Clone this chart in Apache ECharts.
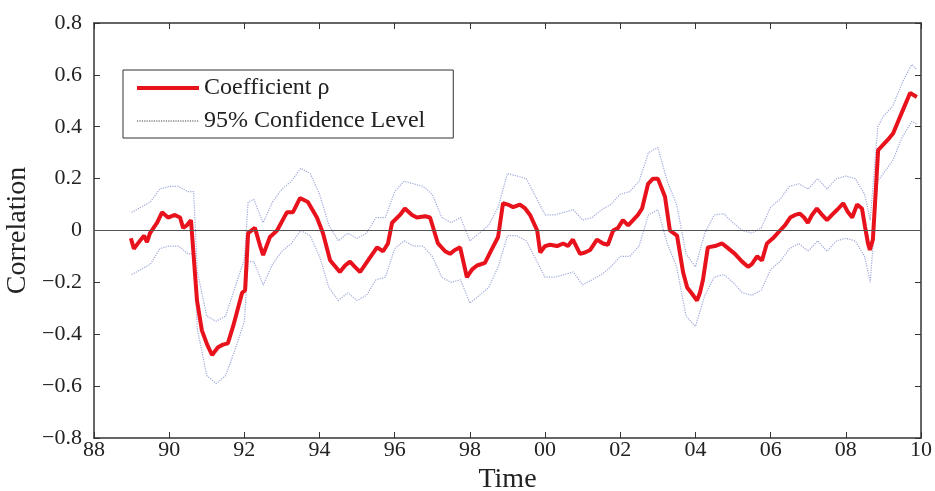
<!DOCTYPE html>
<html>
<head>
<meta charset="utf-8">
<script src="https://cdn.jsdelivr.net/npm/echarts@6/dist/echarts.min.js"></script>
<style>html,body{margin:0;padding:0;background:#fff}#c{width:935px;height:491px}</style>
</head>
<body>
<div id="c"></div>
<script>
// Correlation coefficient rho (time in years)
var years = [1988.98,1989.06,1989.22,1989.33,1989.41,1989.49,1989.68,1989.81,1989.97,1990.15,1990.29,1990.37,1990.47,1990.58,1990.63,1990.74,1990.87,1991.01,1991.14,1991.30,1991.43,1991.56,1991.70,1991.83,1991.94,1992.02,1992.10,1992.28,1992.42,1992.50,1992.68,1992.87,1993.13,1993.29,1993.48,1993.69,1993.93,1994.09,1994.28,1994.54,1994.68,1994.81,1994.94,1995.08,1995.29,1995.53,1995.69,1995.82,1995.93,1996.14,1996.27,1996.46,1996.59,1996.81,1996.94,1997.15,1997.34,1997.47,1997.60,1997.74,1997.92,1998.06,1998.19,1998.40,1998.59,1998.75,1998.88,1999.01,1999.15,1999.33,1999.47,1999.60,1999.79,1999.87,2000.00,2000.13,2000.32,2000.48,2000.61,2000.74,2000.93,2001.06,2001.20,2001.38,2001.54,2001.67,2001.81,2001.94,2002.07,2002.21,2002.34,2002.47,2002.58,2002.74,2002.87,2003.00,2003.19,2003.32,2003.51,2003.67,2003.78,2003.94,2004.04,2004.12,2004.20,2004.33,2004.52,2004.71,2004.84,2005.05,2005.24,2005.40,2005.50,2005.64,2005.77,2005.90,2006.06,2006.25,2006.38,2006.52,2006.65,2006.78,2006.89,2006.99,2007.10,2007.23,2007.37,2007.50,2007.63,2007.77,2007.93,2008.06,2008.17,2008.30,2008.43,2008.51,2008.59,2008.64,2008.72,2008.86,2008.99,2009.12,2009.26,2009.39,2009.52,2009.71,2009.89];
var rho = [-0.03,-0.07,-0.04,-0.02,-0.045,-0.01,0.03,0.07,0.05,0.06,0.05,0.01,0.02,0.04,0.035,-0.27,-0.385,-0.44,-0.48,-0.45,-0.44,-0.435,-0.37,-0.30,-0.24,-0.23,-0.01,0.01,-0.06,-0.095,-0.025,0.0,0.07,0.07,0.125,0.11,0.05,-0.01,-0.115,-0.16,-0.135,-0.12,-0.14,-0.16,-0.115,-0.065,-0.08,-0.05,0.03,0.06,0.085,0.06,0.05,0.055,0.05,-0.05,-0.08,-0.09,-0.075,-0.065,-0.18,-0.15,-0.135,-0.125,-0.07,-0.025,0.105,0.10,0.09,0.10,0.085,0.06,0.0,-0.085,-0.06,-0.055,-0.06,-0.05,-0.06,-0.035,-0.09,-0.085,-0.075,-0.035,-0.05,-0.055,0.0,0.01,0.04,0.02,0.04,0.06,0.085,0.18,0.20,0.20,0.13,0.0,-0.02,-0.16,-0.22,-0.25,-0.27,-0.24,-0.19,-0.065,-0.06,-0.05,-0.065,-0.09,-0.12,-0.14,-0.13,-0.10,-0.115,-0.05,-0.03,0.0,0.02,0.05,0.06,0.065,0.05,0.03,0.06,0.085,0.06,0.04,0.06,0.08,0.105,0.07,0.05,0.10,0.085,0.015,-0.05,-0.075,-0.035,0.31,0.33,0.35,0.375,0.42,0.465,0.53,0.515];

// 95% confidence bounds
var bandYears = [1989.00,1989.25,1989.50,1989.75,1990.00,1990.25,1990.50,1990.65,1990.75,1991.00,1991.25,1991.50,1991.75,1992.00,1992.10,1992.25,1992.50,1992.75,1993.00,1993.25,1993.50,1993.75,1994.00,1994.25,1994.50,1994.75,1995.00,1995.25,1995.50,1995.75,1996.00,1996.25,1996.50,1996.75,1997.00,1997.25,1997.50,1997.75,1998.00,1998.25,1998.50,1998.75,1999.00,1999.25,1999.50,1999.75,2000.00,2000.25,2000.50,2000.75,2001.00,2001.25,2001.50,2001.75,2002.00,2002.25,2002.50,2002.75,2003.00,2003.25,2003.50,2003.75,2004.00,2004.25,2004.50,2004.75,2005.00,2005.25,2005.50,2005.75,2006.00,2006.25,2006.50,2006.75,2007.00,2007.25,2007.50,2007.75,2008.00,2008.25,2008.50,2008.65,2008.85,2009.00,2009.25,2009.50,2009.75,2009.89];
var upper = [0.07,0.09,0.11,0.16,0.17,0.17,0.15,0.15,-0.16,-0.33,-0.35,-0.33,-0.22,-0.11,0.11,0.12,0.03,0.11,0.16,0.19,0.24,0.22,0.14,0.02,-0.04,-0.01,-0.03,-0.01,0.05,0.05,0.15,0.19,0.18,0.17,0.14,0.05,0.03,0.05,-0.04,-0.01,0.02,0.09,0.22,0.21,0.20,0.13,0.06,0.06,0.07,0.08,0.04,0.05,0.08,0.10,0.14,0.15,0.19,0.30,0.32,0.19,0.10,-0.09,-0.14,-0.01,0.06,0.065,0.03,0.0,-0.01,0.01,0.09,0.12,0.17,0.18,0.16,0.20,0.16,0.20,0.21,0.20,0.14,0.04,0.40,0.44,0.48,0.57,0.64,0.62];
var lower = [-0.17,-0.15,-0.13,-0.07,-0.06,-0.06,-0.09,-0.09,-0.38,-0.56,-0.59,-0.56,-0.46,-0.35,-0.12,-0.12,-0.21,-0.13,-0.08,-0.05,0.0,-0.02,-0.10,-0.22,-0.27,-0.24,-0.27,-0.25,-0.19,-0.18,-0.07,-0.04,-0.06,-0.06,-0.10,-0.18,-0.20,-0.19,-0.28,-0.25,-0.22,-0.14,-0.02,-0.02,-0.04,-0.11,-0.18,-0.18,-0.17,-0.16,-0.21,-0.19,-0.17,-0.14,-0.10,-0.10,-0.06,0.06,0.08,-0.05,-0.14,-0.33,-0.37,-0.25,-0.18,-0.17,-0.20,-0.24,-0.25,-0.23,-0.15,-0.12,-0.07,-0.05,-0.08,-0.04,-0.08,-0.04,-0.03,-0.04,-0.10,-0.20,0.19,0.22,0.27,0.36,0.42,0.41];

var xTickLabels = ['88','90','92','94','96','98','00','02','04','06','08','10'];
var yTickLabels = ['\u22120.8','\u22120.6','\u22120.4','\u22120.2','0','0.2','0.4','0.6','0.8'];

var FONT = 'Liberation Serif';
var AX = '#333';
function pairs(xs, ys){ return xs.map(function(x,i){ return [x, ys[i]]; }); }

var chart = echarts.init(document.getElementById('c'));
chart.setOption({
  backgroundColor: '#fff',
  animation: false,
  grid: { left: 94, right: 14, top: 23, bottom: 53, containLabel: false, outerBoundsMode: 'none' },
  legend: {
    orient: 'vertical', left: 123, top: 70,
    borderColor: '#333', borderWidth: 1,
    padding: [6, 28, 5, 12],
    itemWidth: 62, itemHeight: 14, itemGap: 9,
    textStyle: { fontFamily: FONT, fontSize: 24, color: '#222' },
    data: [
      { name: 'Coefficient \u03c1', itemStyle: { opacity: 0 }, lineStyle: { color: '#e8121c', width: 4 } },
      { name: '95% Confidence Level', itemStyle: { opacity: 0 }, lineStyle: { color: '#222', type: 'dotted', width: 1.2 } }
    ]
  },
  xAxis: [{
    type: 'value', min: 1988, max: 2010, interval: 2,
    name: 'Time', nameLocation: 'middle', nameGap: 17,
    nameTextStyle: { fontFamily: FONT, fontSize: 28, color: '#222' },
    axisLine: { show: true, onZero: false, lineStyle: { color: AX, width: 1.5 } },
    axisTick: { show: true, inside: true, length: 6, lineStyle: { color: AX } },
    axisLabel: { margin: 1, fontFamily: FONT, fontSize: 22, color: '#222',
      formatter: function(v){ return xTickLabels[Math.round((v-1988)/2)]; } },
    splitLine: { show: false }
  }, {
    type: 'value', position: 'top', min: 1988, max: 2010, interval: 2,
    axisLine: { show: true, onZero: false, lineStyle: { color: AX, width: 1.5 } },
    axisTick: { show: true, inside: true, length: 6, lineStyle: { color: AX } },
    axisLabel: { show: false }, splitLine: { show: false }
  }],
  yAxis: [{
    type: 'value', min: -0.8, max: 0.8, interval: 0.2,
    name: 'Correlation', nameLocation: 'middle', nameGap: 55,
    nameTextStyle: { fontFamily: FONT, fontSize: 28, color: '#222' },
    axisLine: { show: true, onZero: false, lineStyle: { color: AX, width: 1.5 } },
    axisTick: { show: true, inside: true, length: 6, lineStyle: { color: AX } },
    axisLabel: { margin: 12, fontFamily: FONT, fontSize: 22, color: '#222',
      formatter: function(v){ return yTickLabels[Math.round((v+0.8)/0.2)]; } },
    splitLine: { show: false }
  }, {
    type: 'value', position: 'right', min: -0.8, max: 0.8, interval: 0.2,
    axisLine: { show: true, onZero: false, lineStyle: { color: AX, width: 1.5 } },
    axisTick: { show: true, inside: true, length: 6, lineStyle: { color: AX } },
    axisLabel: { show: false }, splitLine: { show: false }
  }],
  series: [{
    name: '95% Confidence Level', type: 'line', symbol: 'none',
    data: pairs(bandYears, upper),
    lineStyle: { color: '#8e9ad4', width: 1.2, type: 'dotted', opacity: 0.85 },
    itemStyle: { color: '#222' }, z: 2
  }, {
    name: '95% Confidence Level', type: 'line', symbol: 'none',
    data: pairs(bandYears, lower),
    lineStyle: { color: '#8e9ad4', width: 1.2, type: 'dotted', opacity: 0.85 },
    itemStyle: { color: '#222' }, z: 2
  }, {
    name: 'Coefficient \u03c1', type: 'line', symbol: 'none',
    data: pairs(years, rho),
    lineStyle: { color: '#e8121c', width: 4 },
    itemStyle: { color: '#e8121c' }, z: 4,
    markLine: {
      silent: true, symbol: 'none', label: { show: false },
      lineStyle: { color: '#555', width: 1, type: 'solid' },
      data: [{ yAxis: 0 }]
    }
  }]
});
</script>
</body>
</html>
